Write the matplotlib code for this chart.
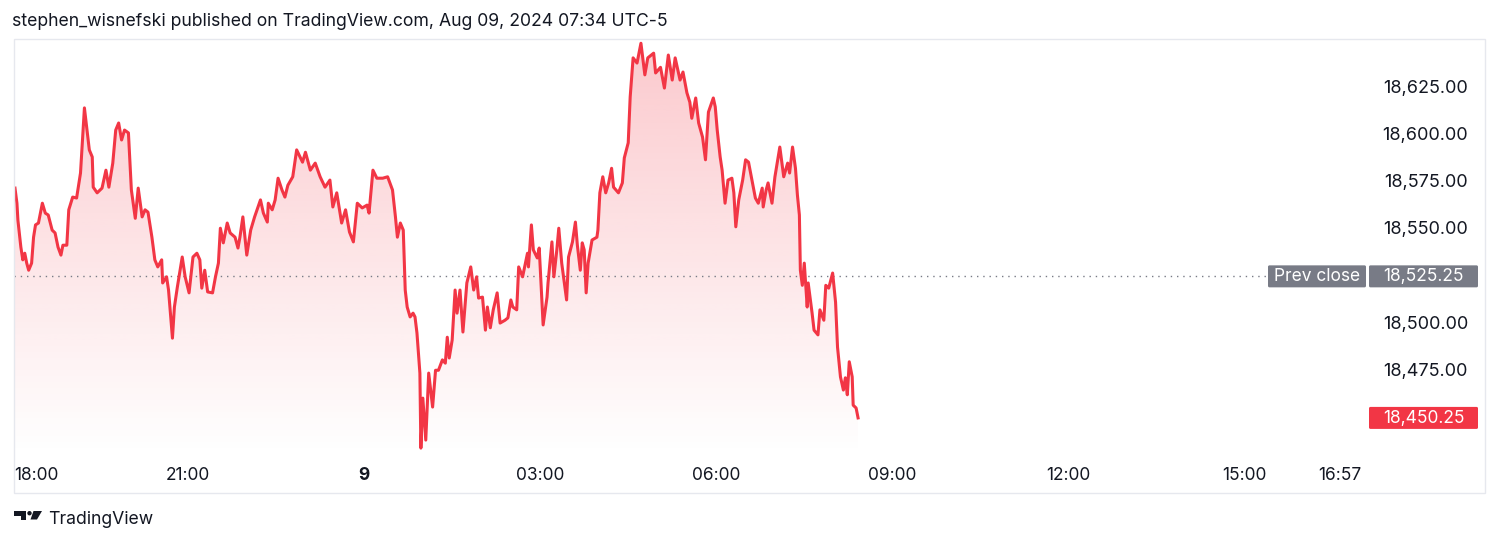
import numpy as np
import matplotlib
matplotlib.use("Agg")
import matplotlib.pyplot as plt
from matplotlib.patches import Rectangle, FancyBboxPatch, Polygon, Circle
from matplotlib.transforms import blended_transform_factory

plt.rcParams['font.family'] = ['Inter', 'DejaVu Sans']

# ---- data: minutes after 18:00 (Aug 8) and NQ price ----
minutes = [3, 5, 6, 9, 11, 13, 15, 17, 20, 22, 24, 27, 31, 34, 37, 41, 44, 47, 50, 52,
           56, 58, 62, 66, 70, 74, 77, 79, 82, 83, 87, 92, 96, 99, 103, 106, 109, 112, 115, 119,
           122, 126, 129, 133, 136, 139, 143, 146, 149, 153, 154, 158, 160, 164, 166, 169, 174, 177, 181, 185,
           189, 192, 194, 197, 200, 205, 208, 211, 213, 216, 220, 223, 228, 231, 233, 236, 240, 244, 248, 254,
           257, 261, 262, 266, 269, 272, 276, 279, 282, 287, 291, 297, 300, 305, 310, 315, 320, 325, 328, 332,
           337, 341, 345, 349, 353, 358, 363, 365, 369, 373, 379, 384, 389, 392, 394, 397, 400, 402, 404, 407,
           410, 412, 414, 417, 418, 420, 423, 426, 430, 433, 436, 440, 443, 445, 447, 450, 453, 455, 458, 461,
           465, 469, 472, 475, 477, 481, 484, 486, 489, 492, 496, 499, 504, 507, 510, 512, 516, 518, 522, 527,
           528, 531, 533, 537, 539, 543, 547, 548, 552, 554, 557, 559, 562, 567, 569, 573, 576, 578, 581, 583,
           585, 587, 589, 593, 598, 599, 601, 604, 607, 610, 613, 615, 620, 624, 626, 630, 632, 635, 639, 643,
           647, 650, 656, 658, 663, 667, 671, 675, 678, 683, 686, 690, 693, 695, 699, 702, 706, 709, 712, 717,
           719, 721, 724, 726, 729, 732, 736, 738, 740, 743, 747, 750, 753, 757, 760, 763, 767, 768, 771, 773,
           777, 780, 785, 789, 793, 795, 798, 801, 803, 805, 806, 808, 810, 813, 814, 818, 820, 824, 826, 830,
           832, 835, 839, 842, 844, 847, 850, 852, 854, 856, 859, 860, 863, 865]
prices = [18572.0, 18564.0, 18555.0, 18540.75, 18534.0, 18537.5, 18532.25, 18528.5, 18532.25, 18546.0,
          18552.5, 18553.5, 18564.0, 18558.75, 18557.75, 18549.75, 18548.25, 18540.75, 18536.5, 18541.75,
          18541.75, 18560.5, 18567.25, 18566.75, 18580.0, 18614.5, 18601.25, 18592.25, 18588.5, 18572.5,
          18569.5, 18572.0, 18581.5, 18572.5, 18585.25, 18602.75, 18606.5, 18597.5, 18602.75, 18601.25,
          18571.0, 18556.0, 18572.0, 18556.75, 18560.5, 18559.25, 18546.0, 18534.0, 18530.25, 18534.0,
          18521.75, 18525.0, 18518.0, 18492.5, 18509.0, 18519.5, 18535.5, 18525.0, 18516.5, 18535.5,
          18537.5, 18534.0, 18519.0, 18528.5, 18517.0, 18516.5, 18525.0, 18532.25, 18550.75, 18543.0,
          18553.5, 18548.25, 18546.0, 18540.25, 18546.0, 18556.75, 18536.5, 18549.75, 18556.75, 18565.75,
          18558.75, 18554.0, 18564.0, 18560.5, 18565.75, 18577.25, 18571.0, 18567.25, 18573.5, 18578.0,
          18592.25, 18585.75, 18591.0, 18581.5, 18585.25, 18578.0, 18572.5, 18576.25, 18562.0, 18569.5,
          18553.5, 18560.5, 18548.75, 18543.5, 18564.0, 18561.5, 18563.0, 18558.75, 18581.5, 18577.25,
          18577.25, 18578.0, 18571.0, 18556.75, 18546.0, 18553.5, 18549.75, 18518.0, 18509.0, 18503.75,
          18505.75, 18503.75, 18495.25, 18474.0, 18434.25, 18460.75, 18438.5, 18474.0, 18456.0, 18475.5,
          18475.5, 18481.0, 18479.25, 18493.0, 18482.0, 18491.5, 18518.0, 18505.75, 18518.0, 18495.75,
          18521.75, 18530.25, 18518.0, 18525.0, 18513.75, 18514.25, 18496.75, 18509.0, 18498.0, 18507.5,
          18516.5, 18500.5, 18502.0, 18503.25, 18512.75, 18509.0, 18507.5, 18530.25, 18525.0, 18537.5,
          18530.25, 18552.5, 18539.25, 18535.0, 18540.25, 18499.5, 18514.25, 18521.75, 18543.5, 18525.0,
          18539.25, 18550.75, 18532.25, 18512.75, 18535.5, 18543.5, 18554.0, 18541.75, 18528.5, 18543.0,
          18539.25, 18516.5, 18532.25, 18544.5, 18546.0, 18549.75, 18569.5, 18578.0, 18569.5, 18574.75,
          18582.5, 18572.5, 18569.5, 18574.75, 18588.0, 18596.0, 18620.25, 18641.0, 18638.25, 18648.75,
          18632.0, 18641.0, 18643.5, 18633.0, 18636.0, 18625.0, 18642.5, 18629.25, 18641.0, 18629.25,
          18633.5, 18622.5, 18617.5, 18609.0, 18619.75, 18606.5, 18599.0, 18587.0, 18612.25, 18619.75,
          18615.0, 18602.75, 18588.5, 18581.5, 18564.0, 18576.25, 18577.25, 18569.5, 18551.5, 18565.75,
          18576.25, 18587.0, 18585.75, 18574.75, 18566.75, 18564.0, 18572.0, 18562.0, 18571.0, 18574.75,
          18564.0, 18578.0, 18593.75, 18578.0, 18585.25, 18580.0, 18593.75, 18582.5, 18568.25, 18557.75,
          18528.5, 18520.5, 18532.25, 18509.0, 18521.75, 18505.75, 18496.75, 18494.25, 18507.5, 18502.0,
          18520.5, 18519.0, 18527.0, 18511.5, 18487.75, 18472.0, 18465.0, 18471.5, 18462.5, 18480.0,
          18472.0, 18457.0, 18455.5, 18450.25]

prev_close = 18525.25
last_price = 18450.25
price_ticks = [18625, 18600, 18575, 18550, 18500, 18475]
time_ticks = [180, 360, 540, 720, 900, 1080, 1260, 1358]
time_labels = ["21:00", "9", "03:00", "06:00", "09:00", "12:00", "15:00", "16:57"]
first_time_label = "18:00"
title = "stephen_wisnefski published on TradingView.com, Aug 09, 2024 07:34 UTC-5"

RED = "#F23645"
GRAY = "#787B86"
TXT = "#131722"

W, H = 1500, 544
fig = plt.figure(figsize=(W / 100, H / 100), dpi=100)
fig.patch.set_facecolor("white")

ax = fig.add_axes([14 / W, (H - 455) / H, 1471 / W, 416 / H])
XMIN, XMAX = 2, 1506
YMIN, YMAX = 18430.6, 18651.0
ax.set_xlim(XMIN, XMAX)
ax.set_ylim(YMIN, YMAX)
ax.axis("off")

t = np.array(minutes, dtype=float)
p = np.array(prices, dtype=float)

# gradient area fill
poly = ax.fill_between(t, p, YMIN, color="none", lw=0)
n = 256
alpha = np.linspace(0.0, 0.27, n)
grad = np.zeros((n, 2, 4))
grad[..., 0] = 242 / 255
grad[..., 1] = 54 / 255
grad[..., 2] = 69 / 255
grad[..., 3] = alpha[:, None]
im = ax.imshow(grad, extent=[XMIN, XMAX, YMIN, YMAX], origin="lower",
               aspect="auto", zorder=1, interpolation="bilinear")
im.set_clip_path(poly.get_paths()[0], transform=ax.transData)
ax.set_xlim(XMIN, XMAX)
ax.set_ylim(YMIN, YMAX)

ax.plot(t, p, color=RED, lw=2.2, zorder=3, solid_joinstyle="round")

# previous close dotted line
ax.axhline(prev_close, xmin=0, xmax=(1268 - 14) / 1471, color=GRAY, lw=1,
           linestyle=(0, (1, 3.5)), zorder=2)

# price axis labels
bt = blended_transform_factory(ax.transAxes, ax.transData)
for pt in price_ticks:
    ax.text(1 - (1485 - 1468) / 1471, pt, f"{pt:,.2f}", transform=bt, ha="right",
            va="center", fontsize=13, color=TXT, clip_on=False)

# time axis labels
tb = blended_transform_factory(ax.transData, fig.transFigure)
ty = (H - 476) / H
ax.text(XMIN, ty, first_time_label, transform=tb, ha="left", va="center",
        fontsize=12.5, color=TXT)
for tk, lb in zip(time_ticks, time_labels):
    ax.text(tk, ty, lb, transform=tb, ha="center", va="center", fontsize=12.5,
            color=TXT, fontweight="bold" if lb == "9" else "normal")

# overlay in pixel coords
ov = fig.add_axes([0, 0, 1, 1], zorder=5)
ov.set_xlim(0, W)
ov.set_ylim(H, 0)
ov.axis("off")
ov.patch.set_alpha(0)

ov.add_patch(Rectangle((14, 39), 1471, 454, fill=False, ec="#E6E8EE", lw=1))


def ypix(val):
    return H - ax.transData.transform((0, val))[1]


def tag(x0, x1, yc, color, text):
    h = 22
    ov.add_patch(FancyBboxPatch((x0 + 1.5, yc - h / 2 + 1.5), x1 - x0 - 3, h - 3,
                                boxstyle="round,pad=1.5", fc=color, ec="none"))
    ov.text((x0 + x1) / 2, yc + 0.5, text, ha="center", va="center", color="white",
            fontsize=12.5)


yp = ypix(prev_close)
tag(1268, 1366, yp, GRAY, "Prev close")
tag(1369, 1478, yp, GRAY, f"{prev_close:,.2f}")
tag(1369, 1478, ypix(last_price), RED, f"{last_price:,.2f}")

# title
ov.text(12, 21, title, ha="left", va="center", fontsize=12.7, color=TXT)

# TradingView logo
ov.add_patch(Polygon([(14, 511), (26, 511), (26, 519.5), (20.5, 519.5), (20.5, 515.5), (14, 515.5)],
                     closed=True, fc=TXT, ec="none"))
ov.add_patch(Circle((29.5, 513.2), 2.2, fc=TXT, ec="none"))
ov.add_patch(Polygon([(33.5, 511), (42, 511), (37, 519.5), (30.5, 519.5)], closed=True,
                     fc=TXT, ec="none"))
ov.text(48, 520, "TradingView", ha="left", va="center", fontsize=12.7, color=TXT)

fig.savefig("out.png", dpi=100, facecolor="white")
